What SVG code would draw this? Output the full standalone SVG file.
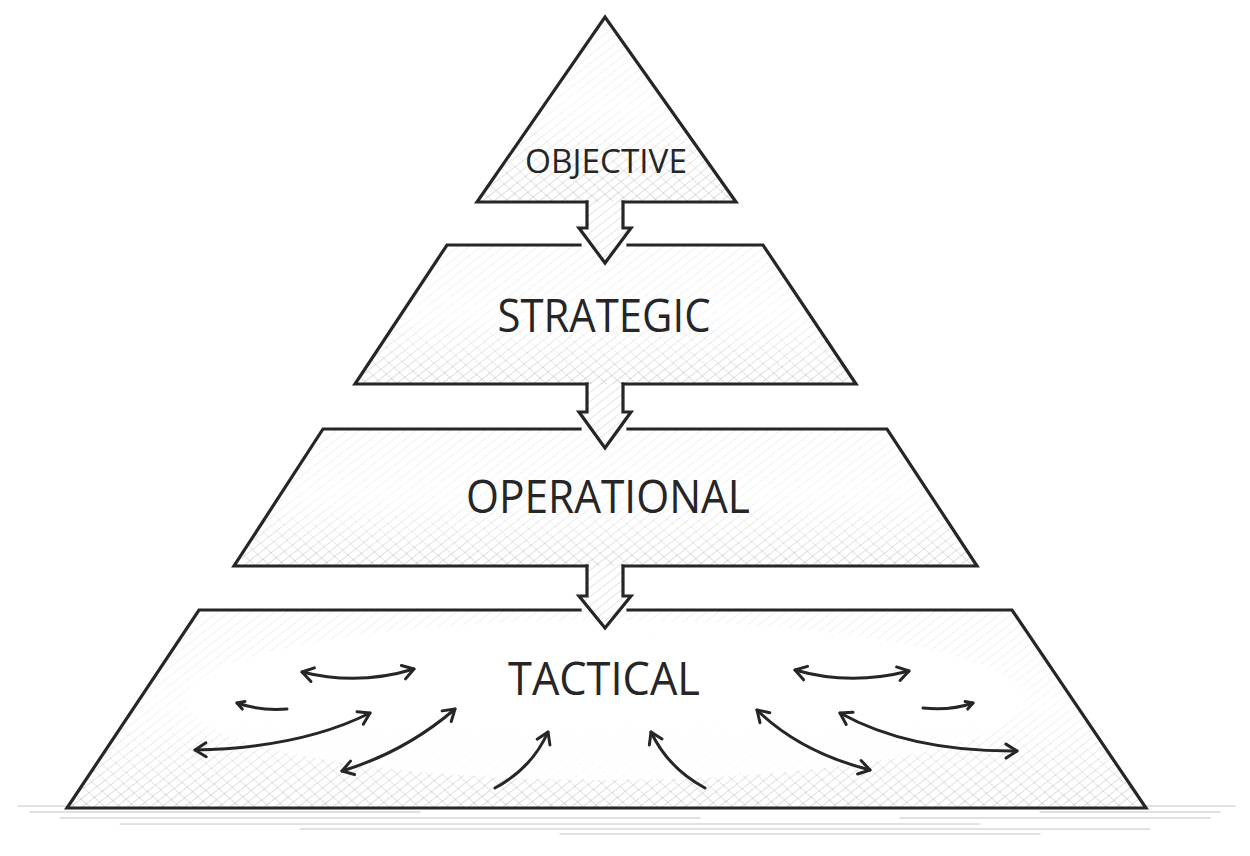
<svg xmlns="http://www.w3.org/2000/svg" width="1250" height="856" viewBox="0 0 1250 856">
<style>
.edge{fill:none;stroke:#262626;stroke-width:3.2;stroke-linejoin:miter;stroke-linecap:square}
.lbl{font-family:"Open Sans","Noto Sans","Liberation Sans",sans-serif;fill:#262626;text-anchor:middle}
.big{font-size:45px}
.small{font-size:32px}
.flow{fill:none;stroke:#262626;stroke-width:3;stroke-linecap:round}
.ground{stroke:#c4c4c4;stroke-width:1.2;fill:none;stroke-linecap:round}
</style>
<defs>
<pattern id="h1" width="7" height="7" patternUnits="userSpaceOnUse" patternTransform="rotate(52)">
<line x1="0" y1="0" x2="0" y2="7" stroke="#a8a8a8" stroke-width="1"/>
</pattern>
<pattern id="h2" width="10" height="10" patternUnits="userSpaceOnUse" patternTransform="rotate(-48)">
<line x1="0" y1="0" x2="0" y2="10" stroke="#a8a8a8" stroke-width="1"/>
</pattern>
<linearGradient id="g1" x1="0" y1="0" x2="0" y2="1">
<stop offset="0" stop-color="#555"/>
<stop offset="0.5" stop-color="#3a3a3a"/>
<stop offset="1" stop-color="#d0d0d0"/>
</linearGradient>
<linearGradient id="g2" x1="0" y1="0" x2="0" y2="1">
<stop offset="0" stop-color="#000"/>
<stop offset="0.55" stop-color="#000"/>
<stop offset="1" stop-color="#bbb"/>
</linearGradient>
<mask id="m1" maskContentUnits="objectBoundingBox"><rect x="0" y="0" width="1" height="1" fill="url(#g1)"/></mask>
<mask id="m2" maskContentUnits="objectBoundingBox"><rect x="0" y="0" width="1" height="1" fill="url(#g2)"/></mask>
<marker id="ah" viewBox="-14 -9 18 18" refX="0" refY="0" markerWidth="18" markerHeight="18" markerUnits="userSpaceOnUse" orient="auto-start-reverse">
<path d="M-11,-7 L0,0 L-11,7" fill="none" stroke="#262626" stroke-width="3" stroke-linecap="round" stroke-linejoin="round"/>
</marker>
<marker id="ahs" viewBox="-14 -9 18 18" refX="0" refY="0" markerWidth="18" markerHeight="18" markerUnits="userSpaceOnUse" orient="auto-start-reverse">
<path d="M-7,-4 L0,0 L-7,4" fill="none" stroke="#262626" stroke-width="3" stroke-linecap="round" stroke-linejoin="round"/>
</marker>
</defs>
<rect width="1250" height="856" fill="#fff"/>
<g id="ground">
<path class="ground" d="M18,806 H200 M30,812 H420 M60,818 H700 M120,824 H980 M300,829 H1150 M560,834 H1040 M1000,806 H1235 M1040,812 H1220 M900,818 H1210 M160,800 H230"/>
</g>
<g id="objective">
<polygon points="605,17 736,202 477,202" fill="#fff"/>
<polygon points="605,17 736,202 477,202" fill="url(#h1)" mask="url(#m1)"/>
<polygon points="605,17 736,202 477,202" fill="url(#h2)" mask="url(#m2)"/>
<path class="edge" d="M587,202 H477 L605,17 L736,202 H623"/>
<text class="lbl small" x="606" y="173" textLength="162" lengthAdjust="spacingAndGlyphs">OBJECTIVE</text>
</g>
<g id="strategic">
<polygon points="447,245 763,245 856,384 355,384" fill="#fff"/>
<polygon points="447,245 763,245 856,384 355,384" fill="url(#h1)" mask="url(#m1)"/>
<polygon points="447,245 763,245 856,384 355,384" fill="url(#h2)" mask="url(#m2)"/>
<path class="edge" d="M580,245 H447 L355,384 H587 M623,384 H856 L763,245 H628"/>
<text class="lbl big" x="604" y="332" textLength="213" lengthAdjust="spacingAndGlyphs">STRATEGIC</text>
</g>
<g id="operational">
<polygon points="323,429 887,429 977,566 234,566" fill="#fff"/>
<polygon points="323,429 887,429 977,566 234,566" fill="url(#h1)" mask="url(#m1)"/>
<polygon points="323,429 887,429 977,566 234,566" fill="url(#h2)" mask="url(#m2)"/>
<path class="edge" d="M580,429 H323 L234,566 H587 M623,566 H977 L887,429 H628"/>
<text class="lbl big" x="608" y="513" textLength="284" lengthAdjust="spacingAndGlyphs">OPERATIONAL</text>
</g>
<g id="tactical">
<polygon points="199,610 1012,610 1146,808 67,808" fill="#fff"/>
<polygon points="199,610 1012,610 1146,808 67,808" fill="url(#h1)" mask="url(#m1)"/>
<polygon points="199,610 1012,610 1146,808 67,808" fill="url(#h2)" mask="url(#m2)"/>
<ellipse cx="605" cy="700" rx="420" ry="80" fill="#fff" opacity="0.85"/>
<path class="edge" d="M580,610 H199 L67,808 H1146 L1012,610 H628"/>
<text class="lbl big" x="604" y="695" textLength="192" lengthAdjust="spacingAndGlyphs">TACTICAL</text>
</g>
<g id="connectors">
<path d="M587,202 V228 H579 L605,263 L631,228 H623 V202 Z" fill="#fff"/>
<path d="M587,202 V228 H579 L605,263 L631,228 H623 V202 Z" fill="url(#h1)" opacity="0.6"/>
<path class="edge" d="M587,202 V228 H579 L605,263 L631,228 H623 V202"/>
<path d="M587,384 V412 H579 L605,448 L631,412 H623 V384 Z" fill="#fff"/>
<path d="M587,384 V412 H579 L605,448 L631,412 H623 V384 Z" fill="url(#h1)" opacity="0.6"/>
<path class="edge" d="M587,384 V412 H579 L605,448 L631,412 H623 V384"/>
<path d="M587,566 V596 H579 L605,628 L631,596 H623 V566 Z" fill="#fff"/>
<path d="M587,566 V596 H579 L605,628 L631,596 H623 V566 Z" fill="url(#h1)" opacity="0.6"/>
<path class="edge" d="M587,566 V596 H579 L605,628 L631,596 H623 V566"/>
<path class="flow" d="M302,672 Q358,686 414,669" marker-start="url(#ah)" marker-end="url(#ah)"/>
<path class="flow" d="M237,703 Q260,711 287,709" marker-start="url(#ahs)"/>
<path class="flow" d="M195,750 Q300,748 370,713" marker-start="url(#ah)" marker-end="url(#ah)"/>
<path class="flow" d="M342,771 Q405,752 455,709" marker-start="url(#ah)" marker-end="url(#ah)"/>
<path class="flow" d="M495,788 Q532,768 548,732" marker-end="url(#ah)"/>
<path class="flow" d="M705,788 Q668,768 651,732" marker-end="url(#ah)"/>
<path class="flow" d="M795,670 Q850,686 909,671" marker-start="url(#ah)" marker-end="url(#ah)"/>
<path class="flow" d="M923,708 Q950,711 973,703" marker-end="url(#ahs)"/>
<path class="flow" d="M840,713 Q910,752 1017,751" marker-start="url(#ah)" marker-end="url(#ah)"/>
<path class="flow" d="M757,710 Q800,752 870,770" marker-start="url(#ah)" marker-end="url(#ah)"/>
</g>
</svg>
